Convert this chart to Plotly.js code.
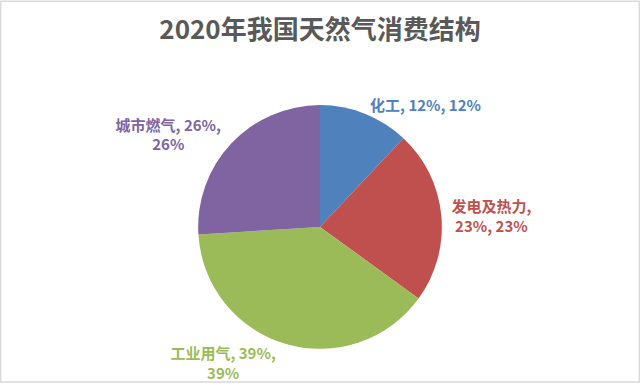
<!DOCTYPE html>
<html>
<head>
<meta charset="utf-8">
<script src="https://cdn.plot.ly/plotly-3.0.1.min.js"></script>
<style>html,body{margin:0;padding:0;background:#fff;}#chart{width:640px;height:385px;}</style>
</head>
<body>
<div id="chart"></div>
<script>
const categories = ["化工", "发电及热力", "工业用气", "城市燃气"];
const values = [12, 23, 39, 26];
const percents = ["12%", "23%", "39%", "26%"];
const breakAfter = [0, 1, 2, 2]; // which comma gets a line break (0 = none)
const colors = ["#4F81BD", "#C0504D", "#9BBB59", "#8064A2"];

const labelText = categories.map((c, i) => {
  const parts = [c, values[i] + "%", percents[i]];
  let s = parts[0];
  for (let k = 1; k < parts.length; k++) {
    s += (breakAfter[i] === k ? ",<br>" : ", ") + parts[k];
  }
  return s;
});

const trace = {
  type: "pie",
  labels: categories,
  values: values,
  text: labelText,
  texttemplate: "%{text}",
  textinfo: "text",
  textposition: "outside",
  sort: false,
  direction: "clockwise",
  rotation: 0,
  marker: { colors: colors, line: { width: 0 } },
  outsidetextfont: { family: "Noto Sans CJK SC, sans-serif", size: 15, color: colors, weight: "bold" },
  domain: { x: [0, 1], y: [0.094, 0.727] },
  hoverinfo: "none",
  showlegend: false
};

const layout = {
  width: 640,
  height: 385,
  margin: { l: 0, r: 0, t: 0, b: 0 },
  paper_bgcolor: "#ffffff",
  title: {
    text: "<b>2020年我国天然气消费结构</b>",
    x: 0.5,
    xanchor: "center",
    y: 0.922,
    yanchor: "middle",
    font: { family: "Noto Sans CJK SC, sans-serif", size: 26, color: "#595959" }
  },
  shapes: [{
    type: "rect", xref: "paper", yref: "paper",
    x0: 0.001, x1: 0.999, y0: 0.008, y1: 0.997,
    line: { color: "#d9d9d9", width: 1.5 }
  }]
};

Plotly.newPlot("chart", [trace], layout, { displayModeBar: false, staticPlot: true });
</script>
</body>
</html>
